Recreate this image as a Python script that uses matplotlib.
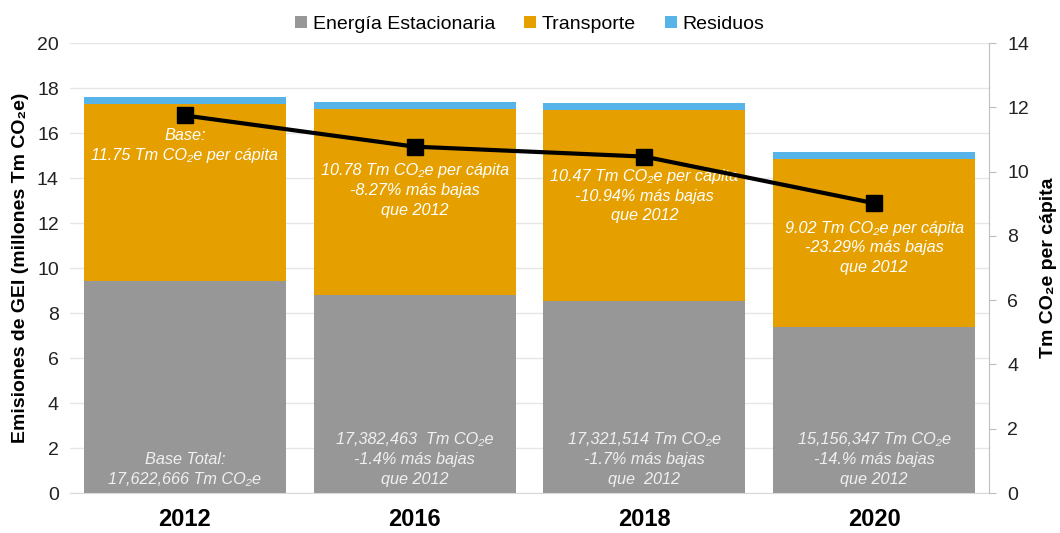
import numpy as np
import matplotlib.pyplot as plt

plt.rcParams['font.family'] = ['Liberation Sans', 'DejaVu Sans']

years = ['2012', '2016', '2018', '2020']
energia = [9.42, 8.80, 8.53, 7.36]
transporte = [7.86, 8.27, 8.51, 7.50]
residuos = [0.34, 0.31, 0.28, 0.30]
per_capita = [11.75, 10.78, 10.47, 9.02]

top_notes = [
    'Base:\n11.75 Tm CO₂e per cápita',
    '10.78 Tm CO₂e per cápita\n-8.27% más bajas\nque 2012',
    '10.47 Tm CO₂e per cápita\n-10.94% más bajas\nque 2012',
    '9.02 Tm CO₂e per cápita\n-23.29% más bajas\nque 2012',
]
top_note_y = [15.45, 13.45, 13.2, 10.9]
bottom_notes = [
    'Base Total:\n17,622,666 Tm CO₂e',
    '17,382,463  Tm CO₂e\n-1.4% más bajas\nque 2012',
    '17,321,514 Tm CO₂e\n-1.7% más bajas\nque  2012',
    '15,156,347 Tm CO₂e\n-14.% más bajas\nque 2012',
]

c_gris = '#979797'
c_naranja = '#e5a000'
c_azul = '#56b4e9'

fig = plt.figure(figsize=(10.6, 5.33), dpi=100)
ax = fig.add_axes([0.066, 0.075, 0.867, 0.844])
x = np.arange(len(years))
w = 0.88

e = np.array(energia)
t = np.array(transporte)
r = np.array(residuos)
ax.bar(x, e, w, color=c_gris, label='Energía Estacionaria', zorder=2)
ax.bar(x, t, w, bottom=e, color=c_naranja, label='Transporte', zorder=2)
ax.bar(x, r, w, bottom=e + t, color=c_azul, label='Residuos', zorder=2)

ax.set_ylim(0, 20)
ax.set_yticks(range(0, 21, 2))
ax.set_xlim(-0.5, 3.5)
ax.set_xticks(x)
ax.set_xticklabels(years, fontsize=17, fontweight='bold')
ax.tick_params(axis='x', length=0, pad=11)
ax.tick_params(axis='y', length=0, labelsize=14, colors='#222222', pad=8)
ax.grid(axis='y', color='#e6e6e6', lw=1, zorder=0)
for s in ['top', 'right', 'left']:
    ax.spines[s].set_visible(False)
ax.spines['bottom'].set_color('#d9d9d9')
ax.set_ylabel('Emisiones de GEI (millones Tm CO₂e)', fontsize=14,
              fontweight='bold', labelpad=6)

for i in x:
    ax.text(i, top_note_y[i], top_notes[i], ha='center', va='center',
            color='white', style='italic', fontsize=11.7, linespacing=1.4,
            zorder=5)
    ax.text(i, 0.28, bottom_notes[i], ha='center', va='bottom',
            color='#f0f0f0', style='italic', fontsize=11.7, linespacing=1.4,
            zorder=5)

ax2 = ax.twinx()
ax2.plot(x, per_capita, color='black', lw=3, marker='s', markersize=11,
         zorder=4)
ax2.set_ylim(0, 14)
ax2.set_yticks(range(0, 15, 2))
for s in ['top', 'left', 'bottom']:
    ax2.spines[s].set_visible(False)
ax2.spines['right'].set_color('#bfbfbf')
ax2.tick_params(axis='y', direction='out', length=5, color='#bfbfbf',
                labelsize=14, labelcolor='#222222', pad=8)
ax2.set_ylabel('Tm CO₂e per cápita', fontsize=14, fontweight='bold',
               labelpad=8)

h, l = ax.get_legend_handles_labels()
fig.legend(h, l, loc='upper center', bbox_to_anchor=(0.5, 1.003), ncol=3,
           frameon=False, fontsize=14, handlelength=0.6, handleheight=0.6,
           handletextpad=0.3, columnspacing=1.5)

fig.savefig('out.png', dpi=100)
